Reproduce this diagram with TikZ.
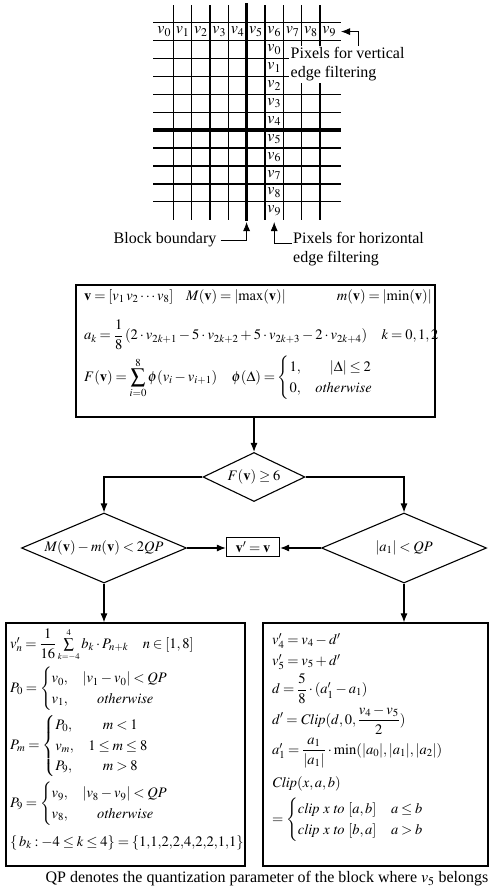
\documentclass[tikz,border=0pt]{standalone}
\usepackage{amsmath}
\usepackage{mathptmx}
\usepackage[no-math]{fontspec}
\setmainfont{Liberation Serif}
\usetikzlibrary{arrows.meta,shapes.geometric}
\medmuskip=2.5mu plus 1mu minus 1mu
\thickmuskip=3.5mu plus 1mu
\tikzset{
  base/.style={font=\fontsize{16}{19}\selectfont, inner sep=1pt},
  mbase/.style={font=\fontsize{14.5}{17}\selectfont, inner sep=0pt},
  gridline/.style={line width=1.4pt},
  thickline/.style={line width=3.4pt},
  arr/.style={line width=1.1pt, -{Latex[length=9pt,width=7pt]}},
  thinarr/.style={line width=0.8pt, -{Latex[length=9pt,width=7pt]}},
  box/.style={draw, line width=1.2pt, rectangle, inner sep=0pt},
  diam/.style={mbase, draw, diamond, line width=1.1pt, inner sep=0pt, aspect=2},
  fl/.style={mbase, anchor=west},
}
\begin{document}
\begin{tikzpicture}[x=1pt,y=-1pt]
\useasboundingbox (0,0) rectangle (492,894);
% grid
\foreach \i in {0,...,8} \draw[gridline] ({173.3+18.33*\i},5) -- ({173.3+18.33*\i},220);
\foreach \j in {0,...,10} \draw[gridline] (153,{22.7+17.9*\j}) -- (341,{22.7+17.9*\j});
\draw[thickline] (246.6,3) -- (246.6,221);
\draw[thickline] (153,130.1) -- (341,130.1);
\foreach \k in {0,...,9} \node[base] (h\k) at ({164.2+18.33*\k},31.6) {$v_{\k}$};
\foreach \k in {0,...,9} \node[base] (c\k) at (274.2,{49.55+17.9*\k}) {$v_{\k}$};
% labels around grid
\node[base, anchor=north west, fill=white, align=left, inner sep=1.5pt] (pv) at (289,46) {Pixels for vertical\\edge filtering};
\coordinate (rowend) at (341,31.6);
\draw[thinarr] ([xshift=69pt]pv.north west) |- (rowend);
\coordinate (bbtip) at (246.6,222);
\coordinate (phtip) at (274.2,222);
\node[base] (bb) at (165,240) {Block boundary};
\draw[thinarr] ([xshift=3pt]bb.east) -| (bbtip);
\node[base, anchor=west, align=left] (ph) at (292,249) {Pixels for horizontal\\edge filtering};
\draw[thinarr] ([yshift=6pt]ph.west) -| (phtip);
% formula box
\node[box, minimum width=359pt, minimum height=132pt] (fbox) at (255.5,351) {};
\node[fl] (f1a) at (84,297) {$\mathbf{v}=[v_1\,v_2\cdots v_8]$};
\node[fl] (f1b) at (186,297) {$M(\mathbf{v})=\left|\max(\mathbf{v})\right|$};
\node[fl, anchor=east] (f1c) at (432,297) {$m(\mathbf{v})=\left|\min(\mathbf{v})\right|$};
\node[fl] (f2) at (84,335) {$\displaystyle a_k=\frac{1}{8}\,(2\cdot v_{2k+1}-5\cdot v_{2k+2}+5\cdot v_{2k+3}-2\cdot v_{2k+4})\quad k=0,1,2$};
\node[fl] (f3) at (84,378) {$\displaystyle F(\mathbf{v})=\sum_{i=0}^{8}\phi(v_i-v_{i+1})\quad \phi(\Delta)=\begin{cases}1, & \quad|\Delta|\le 2\\ 0, & \mathit{otherwise}\end{cases}$};
% decisions
\node[diam, minimum width=102pt, minimum height=49pt] (d1) at (254,477) {\makebox[0pt]{$F(\mathbf{v})\ge 6$}};
\node[diam, minimum width=165pt, minimum height=70pt] (d2) at (104,548) {\makebox[0pt]{$M(\mathbf{v})-m(\mathbf{v})<2QP$}};
\node[diam, minimum width=165pt, minimum height=70pt] (d3) at (404,548) {\makebox[0pt]{$|a_1|<QP$}};
\node[box, mbase, minimum width=53pt, minimum height=19pt] (vv) at (253,547) {$\mathbf{v}'=\mathbf{v}$};
% bottom boxes
\node[box, minimum width=239pt, minimum height=243pt] (lbox) at (125.5,744.5) {};
\node[box, minimum width=225pt, minimum height=243pt] (rbox) at (375.5,744.5) {};
% connectors
\draw[arr] (fbox.south -| d1.north) -- (d1.north);
\draw[arr] (d1.west) -| (d2.north);
\draw[arr] (d1.east) -| (d3.north);
\draw[arr] (d2.east) -- (d2.east -| vv.west);
\draw[arr] (d3.west) -- (d3.west -| vv.east);
\draw[arr] (d2.south) -- (d2.south |- lbox.north);
\draw[arr] (d3.south) -- (d3.south |- rbox.north);
% left box text
\node[fl] (l1) at (10,645) {$v'_n=\dfrac{1}{16}\sum\limits_{\scriptscriptstyle k=-4}^{\scriptscriptstyle 4}b_k\cdot P_{n+k}\quad n\in[1,8]$};
\node[fl] (l2) at (10,689) {$P_0=\begin{cases}v_0, & |v_1-v_0|<QP\\ v_1, & \quad\mathit{otherwise}\end{cases}$};
\node[fl] (l3) at (10,746) {$P_m=\begin{cases}P_0, & \quad m<1\\ v_m, & 1\le m\le 8\\ P_9, & \quad m>8\end{cases}$};
\node[fl] (l4) at (10,804) {$P_9=\begin{cases}v_9, & |v_8-v_9|<QP\\ v_8, & \quad\mathit{otherwise}\end{cases}$};
\node[fl] (l5) at (10,843) {$\{\,b_k:-4\le k\le 4\}=\{1{,}1{,}2{,}2{,}4{,}2{,}2{,}1{,}1\}$};
% right box text
\node[fl] (r1) at (272,641) {$v'_4=v_4-d'$};
\node[fl] (r2) at (272,662) {$v'_5=v_5+d'$};
\node[fl] (r3) at (272,689) {$d=\dfrac{5}{8}\cdot(a'_1-a_1)$};
\node[fl] (r4) at (272,720) {$d'=\mathit{Clip}(d,0,\dfrac{v_4-v_5}{2})$};
\node[fl] (r5) at (272,753) {$a'_1=\dfrac{a_1}{|a_1|}\cdot\min(|a_0|,|a_1|,|a_2|)$};
\node[fl] (r6) at (272,784) {$\mathit{Clip}(x,a,b)$};
\node[fl] (r7) at (272,820) {$=\begin{cases}\mathit{clip}\ x\ \mathit{to}\ [a,b] & a\le b\\ \mathit{clip}\ x\ \mathit{to}\ [b,a] & a>b\end{cases}$};
% caption
\node[base] (cap) at (267,879) {QP denotes the quantization parameter of the block where $v_5$ belongs};
\end{tikzpicture}
\end{document}
